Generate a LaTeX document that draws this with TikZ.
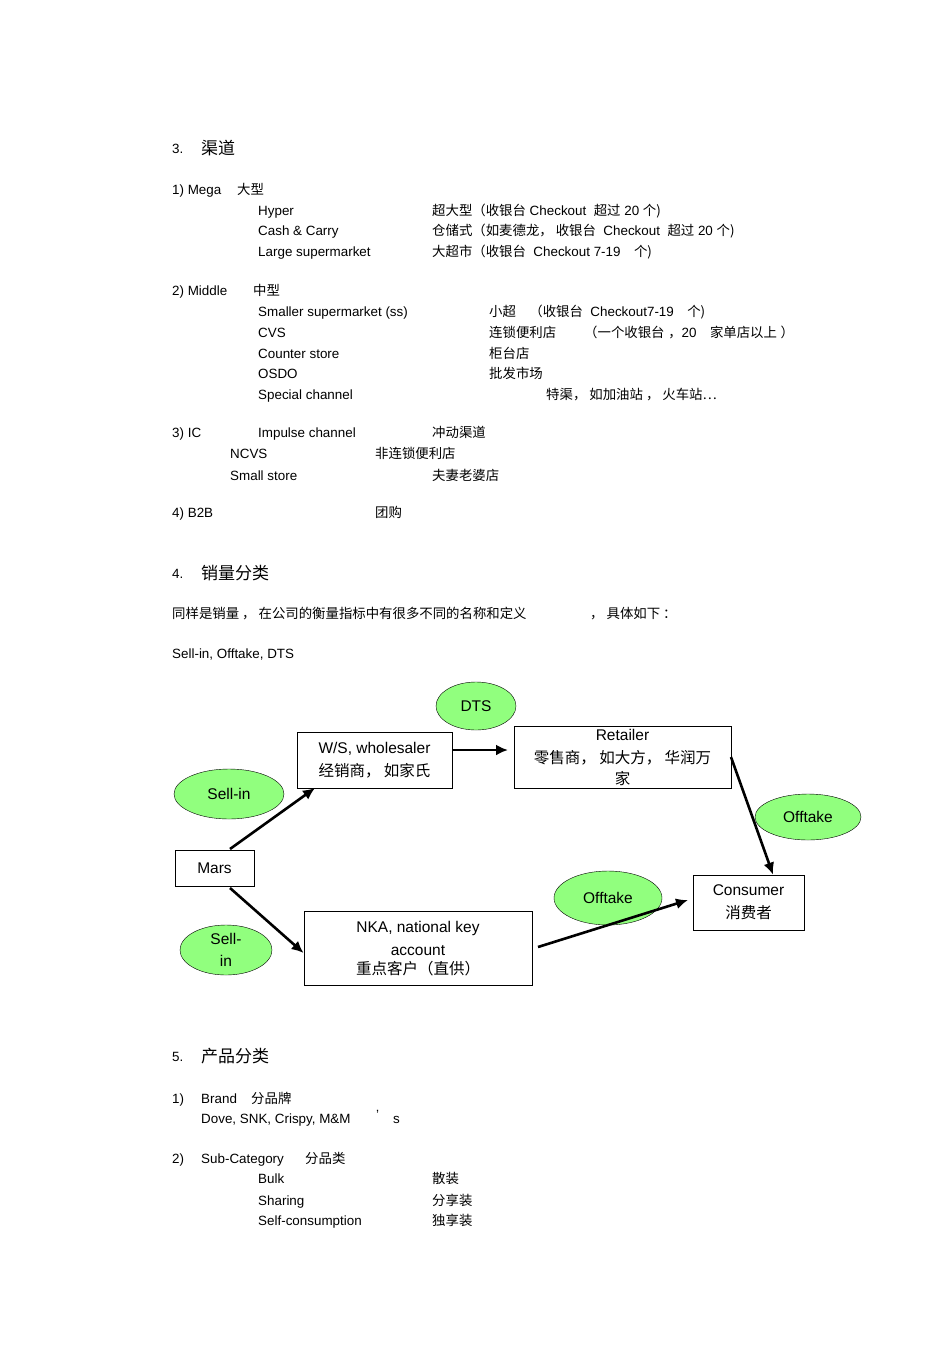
\documentclass[tikz,border=0pt]{standalone}
\usepackage{fontspec}
\setmainfont{Liberation Sans}
\newfontfamily\cjk{Noto Sans CJK SC}
\newcommand\zh[1]{{\cjk #1}}
\begin{document}
\begin{tikzpicture}[x=1pt,y=-1pt,
  t/.style={anchor=base west,inner sep=0pt,font=\fontsize{13.4}{15}\selectfont},
  h/.style={anchor=base west,inner sep=0pt,font=\fontsize{17}{19}\selectfont},
  box/.style={draw,thick,minimum width=#1,inner sep=2pt,align=center,font=\fontsize{15.5}{23}\selectfont},
  oval/.style={draw,ellipse,fill=green!45!white!90!lime,inner sep=0pt,font=\fontsize{15.5}{18}\selectfont},
  arr/.style={line width=2.6pt,-{Latex[length=12pt,width=11pt]}}]
\usetikzlibrary{shapes.geometric,arrows.meta}
\useasboundingbox (0,0) rectangle (950,1345);
\node[t] (a1) at (172,153) {3.}; \node[h] (a2) at (201,154) {\zh{渠道}};
\node[t] (b1) at (172,194) {1) Mega}; \node[t] (b2) at (237,194) {\zh{大型}};
\node[t] (b3) at (258,215) {Hyper}; \node[t] (b4) at (432,215) {\zh{超大型（收银台}\ Checkout\ \ \zh{超过}\ 20 \zh{个)}};
\node[t] (b5) at (258,235) {Cash \& Carry}; \node[t] (b6) at (432,235) {\zh{仓储式（如麦德龙，\ 收银台}\ \ Checkout\ \ \zh{超过}\ 20 \zh{个)}};
\node[t] (b7) at (258,256) {Large supermarket}; \node[t] (b8) at (432,256) {\zh{大超市（收银台}\ \ Checkout 7-19\quad\zh{个)}};
\node[t] (c1) at (172,295) {2) Middle}; \node[t] (c2) at (253,295) {\zh{中型}};
\node[t] (c3) at (258,316) {Smaller supermarket (ss)}; \node[t] (c4) at (489,316) {\zh{小超}\quad\zh{（收银台}\ \ Checkout7-19\quad\zh{个)}};
\node[t] (c5) at (258,337) {CVS}; \node[t] (c6) at (489,337) {\zh{连锁便利店}}; \node[t] (c7) at (584,337) {\zh{（一个收银台}\ \zh{，}20\quad\zh{家单店以上}\ \zh{）}};
\node[t] (c8) at (258,358) {Counter store}; \node[t] (c9) at (489,358) {\zh{柜台店}};
\node[t] (c10) at (258,378) {OSDO}; \node[t] (c11) at (489,378) {\zh{批发市场}};
\node[t] (c12) at (258,399) {Special channel}; \node[t] (c13) at (546,399) {\zh{特渠，\ 如加油站\ ，\ 火车站…}};
\node[t] (d1) at (172,437) {3) IC}; \node[t] (d2) at (258,437) {Impulse channel}; \node[t] (d3) at (432,437) {\zh{冲动渠道}};
\node[t] (d4) at (230,458) {NCVS}; \node[t] (d5) at (375,458) {\zh{非连锁便利店}};
\node[t] (d6) at (230,480) {Small store}; \node[t] (d7) at (432,480) {\zh{夫妻老婆店}};
\node[t] (e1) at (172,517) {4) B2B}; \node[t] (e2) at (375,517) {\zh{团购}};
\node[t] (f1) at (172,578) {4.}; \node[h] (f2) at (201,579) {\zh{销量分类}};
\node[t] (f3) at (172,618) {\zh{同样是销量\ ，\ 在公司的衡量指标中有很多不同的名称和定义}};
\node[t] (f4) at (590,618) {\zh{，\ 具体如下\ ：}};
\node[t] (f5) at (172,658) {Sell-in, Offtake, DTS};
% diagram
\node[oval,minimum width=80,minimum height=48] (o1) at (476,706) {DTS};
\node[oval,minimum width=110,minimum height=50] (o2) at (229,794) {Sell-in};
\node[oval,minimum width=106,minimum height=46] (o3) at (808,817) {Offtake};
\node[oval,minimum width=108,minimum height=54] (o4) at (608,898) {Offtake};
\node[oval,minimum width=92,minimum height=50,align=center,font=\fontsize{15.5}{22}\selectfont] (o5) at (226,950) {Sell-\\in};
\node[box=155,minimum height=56] (w) at (374.5,760) {W/S, wholesaler\\\zh{经销商，\ 如家氏}};
\node[box=217,minimum height=62,anchor=north,inner sep=1pt] (r) at (622.5,726) {Retailer\\\zh{零售商，\ 如大方，\ 华润万}\\[-2pt]\zh{家}};
\node[box=79,minimum height=36] (m) at (214.5,868) {Mars};
\node[box=228,minimum height=74,anchor=north,inner sep=1pt] (n) at (418,911) {NKA, national key\\account\\[-4pt]\zh{重点客户（直供）}};
\node[box=111,minimum height=55] (c) at (748.5,902.5) {Consumer\\\zh{消费者}};
\coordinate (p1) at (230,849); \coordinate (p2) at (315,788);
\draw[arr] (p1) -- (p2);
\draw[arr] (w.east |- 0,750) -- (508,750);
\draw[arr] (731,757) -- (c.north -| 773,0);
\draw[arr] (230,888) -- (n.west |- 0,953);
\draw[arr] (538,947) -- (688,900);
% section 5
\node[t] (g1) at (172,1061) {5.}; \node[h] (g2) at (201,1062) {\zh{产品分类}};
\node[t] (g3) at (172,1103) {1)}; \node[t] (g4) at (201,1103) {Brand}; \node[t] (g5) at (251,1103) {\zh{分品牌}};
\node[t] (g6) at (201,1123) {Dove, SNK, Crispy, M\&M}; \node[t] (g7) at (376,1119) {’}; \node[t] (g8) at (393,1123) {s};
\node[t] (g9) at (172,1163) {2)}; \node[t] (g10) at (201,1163) {Sub-Category}; \node[t] (g11) at (305,1163) {\zh{分品类}};
\node[t] (g12) at (258,1183) {Bulk}; \node[t] (g13) at (432,1183) {\zh{散装}};
\node[t] (g14) at (258,1205) {Sharing}; \node[t] (g15) at (432,1205) {\zh{分享装}};
\node[t] (g16) at (258,1225) {Self-consumption}; \node[t] (g17) at (432,1225) {\zh{独享装}};
\end{tikzpicture}
\end{document}
